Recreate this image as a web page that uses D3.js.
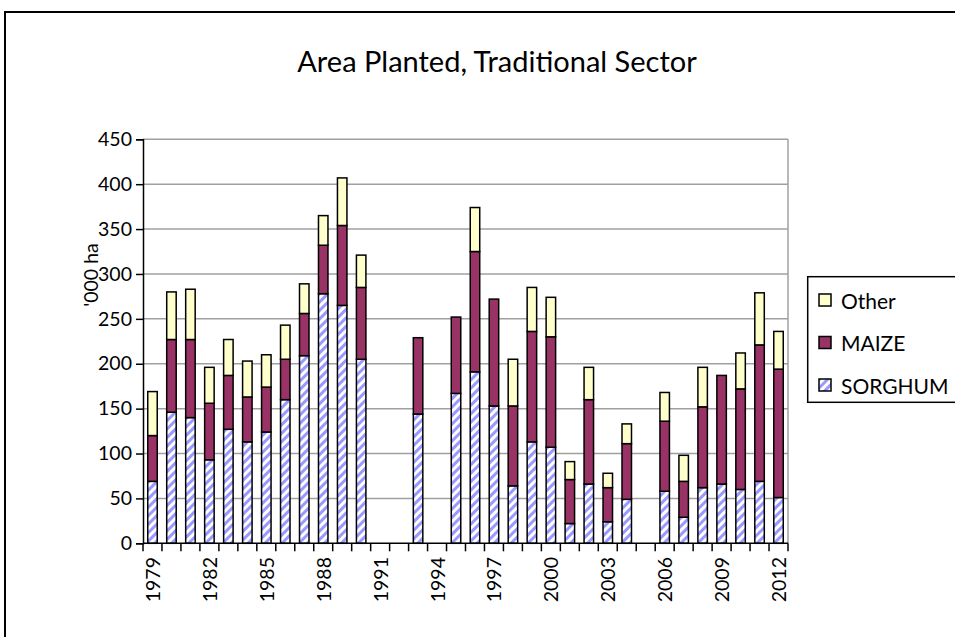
<!DOCTYPE html>
<html>
<head>
<meta charset="utf-8">
<script src="https://cdn.jsdelivr.net/npm/d3@7"></script>
<style>
  html, body { margin: 0; padding: 0; background: #fff; }
  svg { display: block; }
  text { font-family: Lato, "Liberation Sans", sans-serif; fill: #000; }
</style>
</head>
<body>
<svg id="chart" width="955" height="637"></svg>
<script>
// Area planted in the traditional sector, '000 ha (null = no data for that year)
const years = d3.range(1979, 2013);
const sorghum = [69, 146, 140, 93, 127, 113, 124, 160, 209, 278, 265, 205, null, null, 144, null,
                 167, 191, 153, 64, 113, 107, 22, 66, 24, 49, null, 58, 29, 62, 66, 60, 69, 51];
const maize   = [51, 81, 87, 63, 60, 50, 50, 45, 47, 54, 89, 80, null, null, 85, null,
                 85, 134, 119, 89, 123, 123, 49, 94, 38, 62, null, 78, 40, 90, 121, 112, 152, 143];
const other   = [49, 53, 56, 40, 40, 40, 36, 38, 33, 33, 53, 36, null, null, 0, null,
                 0, 49, 0, 52, 49, 44, 20, 36, 16, 22, null, 32, 29, 44, 0, 40, 58, 42];
const yTicks = [0, 50, 100, 150, 200, 250, 300, 350, 400, 450];
const xLabelYears = [1979, 1982, 1985, 1988, 1991, 1994, 1997, 2000, 2003, 2006, 2009, 2012];

const seriesNames = ["SORGHUM", "MAIZE", "Other"];
const seriesFill = { SORGHUM: "url(#sorghumStripes)", MAIZE: "#993366", Other: "#ffffcc" };

const rows = years.map((yr, i) => ({
  year: yr,
  SORGHUM: sorghum[i] || 0,
  MAIZE: maize[i] || 0,
  Other: other[i] || 0
}));

const svg = d3.select("#chart");

// diagonal stripe fill for sorghum
const defs = svg.append("defs");
const pat = defs.append("pattern")
  .attr("id", "sorghumStripes")
  .attr("patternUnits", "userSpaceOnUse")
  .attr("width", 6).attr("height", 6)
  .attr("patternTransform", "rotate(45)");
pat.append("rect").attr("width", 6).attr("height", 6).attr("fill", "#ffffff");
pat.append("rect").attr("x", 0).attr("width", 3).attr("height", 6).attr("fill", "#9999ff");

// outer chart frame
svg.append("rect")
  .attr("x", 5).attr("y", 12).attr("width", 1000).attr("height", 700)
  .attr("fill", "#fff").attr("stroke", "#000").attr("stroke-width", 2);

const plot = { left: 143, right: 788, top: 139.3, bottom: 543.3 };

const x = d3.scaleBand().domain(years).range([plot.left, plot.right]).padding(0);
const y = d3.scaleLinear().domain([0, 450]).range([plot.bottom, plot.top]);

// gridlines
svg.append("g").selectAll("line")
  .data(yTicks.filter(d => d > 0))
  .join("line")
  .attr("x1", plot.left).attr("x2", plot.right)
  .attr("y1", d => y(d)).attr("y2", d => y(d))
  .attr("stroke", "#a0a0a0").attr("stroke-width", 1.5);

// right edge of the plot area
svg.append("line")
  .attr("x1", plot.right).attr("x2", plot.right)
  .attr("y1", plot.top).attr("y2", plot.bottom)
  .attr("stroke", "#a0a0a0").attr("stroke-width", 1.5);

// stacked bars
const stack = d3.stack().keys(seriesNames);
const layers = stack(rows);
const barW = x.bandwidth() / 2;

svg.append("g").selectAll("g")
  .data(layers)
  .join("g")
  .attr("fill", d => seriesFill[d.key])
  .selectAll("rect")
  .data(d => d.filter(p => p[1] - p[0] > 0))
  .join("rect")
  .attr("x", d => x(d.data.year) + x.bandwidth() / 4)
  .attr("width", barW)
  .attr("y", d => y(d[1]))
  .attr("height", d => y(d[0]) - y(d[1]))
  .attr("stroke", "#000").attr("stroke-width", 1.5);

// y axis
const yAxis = d3.axisLeft(y).tickValues(yTicks).tickSize(7).tickPadding(4);
const gy = svg.append("g").attr("transform", `translate(${plot.left},0)`).call(yAxis);
gy.select(".domain").attr("stroke", "#000").attr("stroke-width", 1.5);
gy.selectAll(".tick line").attr("stroke", "#000").attr("stroke-width", 1.5);
gy.selectAll(".tick text").style("font-size", "19.5px").style("font-family", "Lato");

// x axis: ticks sit on category boundaries
const boundaries = years.map(yr => x(yr)).concat([plot.right]);
svg.append("line")
  .attr("x1", plot.left).attr("x2", plot.right)
  .attr("y1", plot.bottom).attr("y2", plot.bottom)
  .attr("stroke", "#000").attr("stroke-width", 1.5);
svg.append("g").selectAll("line")
  .data(boundaries)
  .join("line")
  .attr("x1", d => d).attr("x2", d => d)
  .attr("y1", plot.bottom).attr("y2", plot.bottom + 8)
  .attr("stroke", "#000").attr("stroke-width", 1.5);

svg.append("g").selectAll("text")
  .data(xLabelYears)
  .join("text")
  .attr("transform", d => `translate(${x(d) + x.bandwidth() / 2},557) rotate(-90)`)
  .attr("text-anchor", "end")
  .attr("dominant-baseline", "central")
  .style("font-size", "19.5px")
  .text(d => d);

// axis title
svg.append("text")
  .attr("transform", "translate(90,275) rotate(-90)")
  .attr("text-anchor", "middle")
  .attr("dominant-baseline", "central")
  .style("font-size", "19.5px")
  .text("'000 ha");

// chart title
svg.append("text")
  .attr("x", 497).attr("y", 72)
  .attr("text-anchor", "middle")
  .style("font-size", "29px")
  .text("Area Planted, Traditional Sector");

// legend
const legend = svg.append("g");
legend.append("rect")
  .attr("x", 807.7).attr("y", 276.7).attr("width", 200).attr("height", 125.6)
  .attr("fill", "#fff").attr("stroke", "#000").attr("stroke-width", 1.5);
const legendItems = ["Other", "MAIZE", "SORGHUM"];
const legendY = [300, 342.5, 385];
legendItems.forEach((name, i) => {
  legend.append("rect")
    .attr("x", 819).attr("y", legendY[i] - 6).attr("width", 12).attr("height", 12)
    .attr("fill", seriesFill[name]).attr("stroke", "#000").attr("stroke-width", 1.5);
  legend.append("text")
    .attr("x", 841).attr("y", legendY[i])
    .attr("dominant-baseline", "central")
    .style("font-size", "21px")
    .text(name);
});
</script>
</body>
</html>
